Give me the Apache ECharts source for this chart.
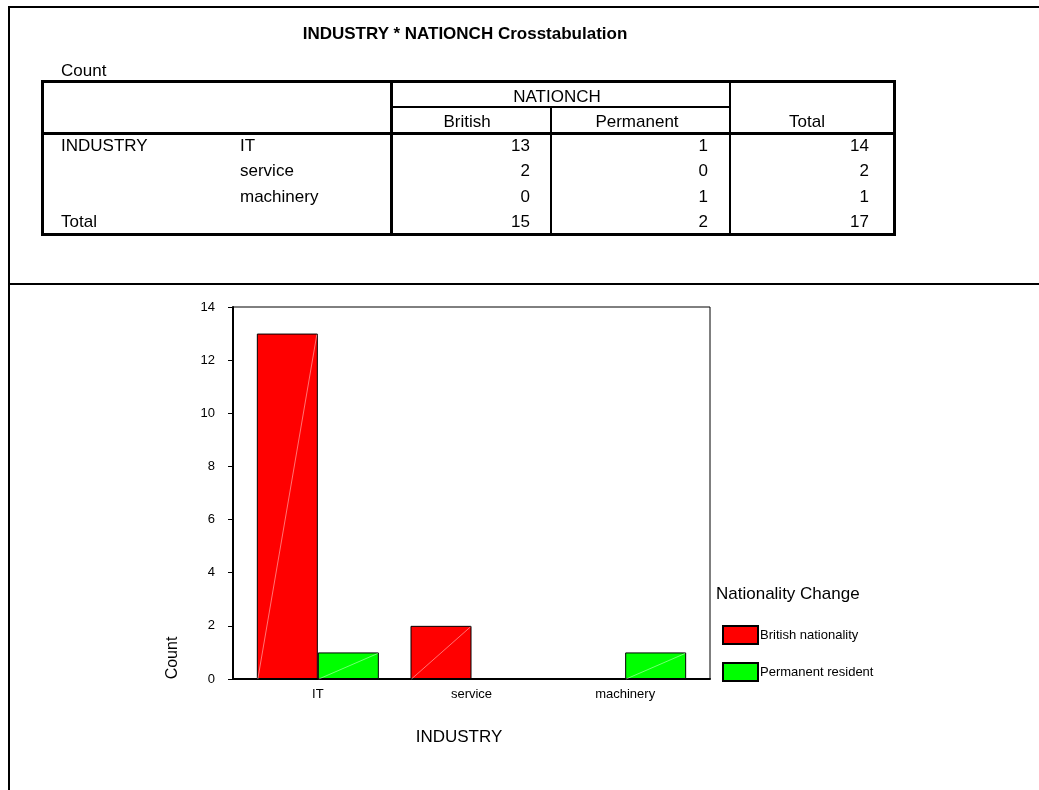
<!DOCTYPE html>
<html>
<head>
<meta charset="utf-8">
<title>INDUSTRY * NATIONCH Crosstabulation</title>
<script src="https://cdn.jsdelivr.net/npm/echarts@6/dist/echarts.min.js"></script>
<style>
  html, body { margin: 0; padding: 0; background: #fff; }
  body { position: relative; width: 1039px; height: 790px; overflow: hidden;
         font-family: Arial, "Liberation Sans", sans-serif; color: #000; }
  #chart { position: absolute; left: 0; top: 0; width: 1039px; height: 790px; }
  #sheet { position: absolute; left: 0; top: 0; width: 1039px; height: 790px; pointer-events: none; }
  .ln { position: absolute; background: #000; }
  .tx { position: absolute; font-size: 17px; line-height: 20px; white-space: nowrap; }
</style>
</head>
<body>
<div id="chart"></div>
<div id="sheet"></div>
<script>
// data read from the crosstab / chart
const industries = ['IT', 'service', 'machinery'];
const britishCounts = [13, 2, 0];
const permanentCounts = [1, 0, 1];
const rowTotals = [14, 2, 1];
const columnTotals = [15, 2, 17];
const tableColumns = ['British', 'Permanent'];
const seriesNames = ['British nationality', 'Permanent resident'];
const seriesColors = ['#ff0000', '#00ff00'];

// ---- crosstab (plain html) ----
const sheet = document.getElementById('sheet');

function line(x, y, w, h) {
  let d = document.createElement('div');
  d.className = 'ln';
  d.style.left = x + 'px';
  d.style.top = y + 'px';
  d.style.width = w + 'px';
  d.style.height = h + 'px';
  sheet.appendChild(d);
}

function text(str, x, y, align, bold) {
  let d = document.createElement('div');
  d.className = 'tx';
  d.textContent = str;
  d.style.top = y + 'px';
  if (align === 'right') {
    d.style.left = (x - 200) + 'px';
    d.style.width = '200px';
    d.style.textAlign = 'right';
  } else if (align === 'center') {
    d.style.left = (x - 250) + 'px';
    d.style.width = '500px';
    d.style.textAlign = 'center';
  } else {
    d.style.left = x + 'px';
  }
  if (bold) d.style.fontWeight = 'bold';
  sheet.appendChild(d);
}

// page frame
line(8, 6, 1031, 2);
line(8, 6, 2, 784);
line(8, 283, 1031, 2);

// table rules
line(41, 80, 855, 3);
line(41, 233, 855, 3);
line(41, 80, 3, 156);
line(893, 80, 3, 156);
line(390, 80, 3, 156);
line(41, 132, 855, 3);
line(392, 106, 338, 2);
line(550, 106, 2, 128);
line(729, 80, 2, 154);

text('INDUSTRY * NATIONCH Crosstabulation', 465, 24, 'center', true);
text('Count', 61, 61);
text('NATIONCH', 557, 87, 'center');
text(tableColumns[0], 467, 112, 'center');
text(tableColumns[1], 637, 112, 'center');
text('Total', 807, 112, 'center');

const rowTops = [136, 161, 187, 212];
const numRights = [530, 708, 869];
text('INDUSTRY', 61, rowTops[0]);
industries.forEach((name, i) => {
  text(name, 240, rowTops[i]);
  text(String(britishCounts[i]), numRights[0], rowTops[i], 'right');
  text(String(permanentCounts[i]), numRights[1], rowTops[i], 'right');
  text(String(rowTotals[i]), numRights[2], rowTops[i], 'right');
});
text('Total', 61, rowTops[3]);
columnTotals.forEach((v, j) => text(String(v), numRights[j], rowTops[3], 'right'));

// ---- bar chart ----
const barWidth = 61;

function diagonal(side) {
  return function (params, api) {
    let val = api.value(1);
    if (!val) return null;
    let top = api.coord([api.value(0), val]);
    let base = api.coord([api.value(0), 0]);
    let x0 = side < 0 ? top[0] - barWidth : top[0];
    return {
      type: 'line',
      silent: true,
      shape: { x1: x0 + 1, y1: base[1], x2: x0 + barWidth - 1, y2: top[1] + 1 },
      style: { stroke: 'rgba(255,255,255,0.45)', lineWidth: 1 }
    };
  };
}

let chart = echarts.init(document.getElementById('chart'));
let option = {
  animation: false,
  textStyle: { fontFamily: 'Arial, "Liberation Sans", sans-serif', color: '#000' },
  title: {
    text: 'Nationality Change',
    left: 716,
    top: 586,
    padding: 0,
    textStyle: { fontSize: 17, fontWeight: 'normal', color: '#000' }
  },
  legend: {
    data: seriesNames,
    orient: 'vertical',
    left: 722,
    top: 625,
    padding: 0,
    icon: 'rect',
    itemWidth: 35,
    itemHeight: 18,
    itemGap: 17,
    textStyle: { fontSize: 13, color: '#000', padding: [0, 0, 0, -3] }
  },
  grid: [
    // outer frame
    { left: 233, top: 307, right: 329, bottom: 111, show: true, borderColor: '#000', borderWidth: 1 },
    // plotting band
    { left: 241, top: 307, right: 337, bottom: 111 }
  ],
  xAxis: [
    {
      gridIndex: 0, type: 'value',
      axisLine: { show: true, lineStyle: { color: '#000', width: 2 } },
      axisTick: { show: false }, axisLabel: { show: false }, splitLine: { show: false }
    },
    {
      gridIndex: 1,
      type: 'category',
      data: industries,
      name: 'INDUSTRY',
      nameLocation: 'middle',
      nameGap: 50,
      nameTextStyle: { fontSize: 17, color: '#000', padding: [0, 25, 0, 0] },
      axisLine: { lineStyle: { color: '#000', width: 2 } },
      axisTick: { alignWithLabel: true, length: 5, lineStyle: { color: '#000', width: 2 } },
      axisLabel: { fontSize: 13, color: '#000', margin: 9 }
    }
  ],
  yAxis: [
    { gridIndex: 0, type: 'value', show: false },
    {
      gridIndex: 1,
      type: 'value',
      min: 0,
      max: 14,
      interval: 2,
      offset: 8,
      axisLine: { show: true, lineStyle: { color: '#000', width: 2 } },
      axisTick: { show: true, length: 5, lineStyle: { color: '#000', width: 1 } },
      splitLine: { show: false },
      axisLabel: { fontSize: 13, color: '#000', margin: 18 }
    }
  ],
  graphic: [{
    type: 'text',
    x: 173,
    y: 658,
    rotation: Math.PI / 2,
    style: {
      text: 'Count',
      fill: '#000',
      font: '16px Arial, "Liberation Sans", sans-serif',
      align: 'center',
      verticalAlign: 'middle'
    }
  }],
  series: [
    {
      name: seriesNames[0],
      type: 'bar',
      xAxisIndex: 1,
      yAxisIndex: 1,
      data: britishCounts,
      barWidth: barWidth,
      barGap: 0,
      itemStyle: { color: seriesColors[0], borderColor: '#000', borderWidth: 1 }
    },
    {
      name: seriesNames[1],
      type: 'bar',
      xAxisIndex: 1,
      yAxisIndex: 1,
      data: permanentCounts,
      barWidth: barWidth,
      barGap: 0,
      itemStyle: { color: seriesColors[1], borderColor: '#000', borderWidth: 1 }
    },
    {
      name: 'diag0',
      type: 'custom',
      xAxisIndex: 1,
      yAxisIndex: 1,
      silent: true,
      z: 3,
      data: industries.map((c, i) => [i, britishCounts[i]]),
      renderItem: diagonal(-1)
    },
    {
      name: 'diag1',
      type: 'custom',
      xAxisIndex: 1,
      yAxisIndex: 1,
      silent: true,
      z: 3,
      data: industries.map((c, i) => [i, permanentCounts[i]]),
      renderItem: diagonal(1)
    }
  ]
};
chart.setOption(option);
</script>
</body>
</html>
